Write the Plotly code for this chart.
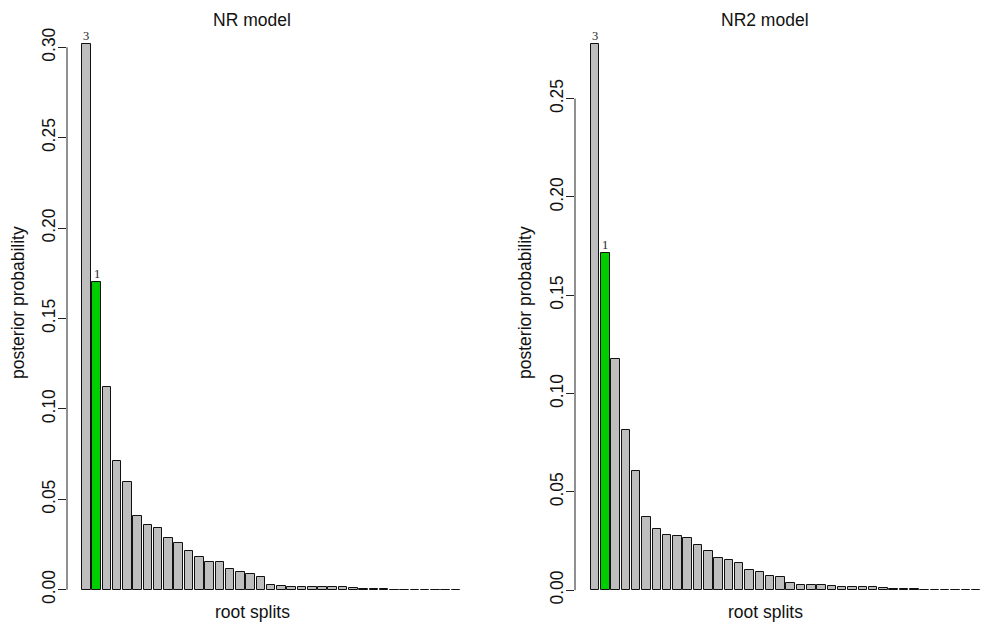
import plotly.graph_objects as go

# Posterior probabilities of root splits, sorted in decreasing order
nr_probs = [0.302, 0.170, 0.112, 0.071, 0.0597, 0.041, 0.0356, 0.0341, 0.0286, 0.0258,
            0.0212, 0.0181, 0.0152, 0.0151, 0.0115, 0.0099, 0.0089, 0.0068, 0.0025, 0.0021,
            0.0016, 0.0016, 0.0015, 0.0014, 0.0014, 0.0013, 0.0010, 0.0005, 0.0005, 0.0005,
            0.0001, 0.0001, 0.0001, 0.0001, 0.0001, 0.0001, 0.0001]
nr2_probs = [0.2776, 0.1716, 0.1178, 0.0814, 0.0607, 0.0370, 0.0312, 0.0280, 0.0276, 0.0266,
             0.0232, 0.0198, 0.0163, 0.0154, 0.0140, 0.0104, 0.0091, 0.0070, 0.0065, 0.0039,
             0.0029, 0.0027, 0.0025, 0.0019, 0.0017, 0.0017, 0.0014, 0.0014, 0.0013, 0.0008,
             0.0006, 0.0006, 0.0001, 0.0001, 0.0001, 0.0001, 0.0001, 0.0001]

# Labelled root splits: (bar index, label)
nr_labels = [(0, "3"), (1, "1")]
nr2_labels = [(0, "3"), (1, "1")]
highlight_index = 1  # the true root split

nr_ticks = [0.00, 0.05, 0.10, 0.15, 0.20, 0.25, 0.30]
nr2_ticks = [0.00, 0.05, 0.10, 0.15, 0.20, 0.25]

titles = ["NR model", "NR2 model"]
xlab = "root splits"
ylab = "posterior probability"

W, H = 984, 628
GRAY = "#BEBEBE"
GREEN = "#00CD00"
FONT = "Liberation Sans, Arial, Helvetica, sans-serif"
FS = 17.5


def px(x):
    return x / W


def py(y):
    return 1 - y / H


fig = go.Figure()

panels = [
    dict(probs=nr_probs, ticks=nr_ticks, labels=nr_labels, title=titles[0],
         xdom=(67, 475), ydom=(22, 611), xr=[-0.879, 38.85], yr=[-0.01178, 0.314],
         cx=252, ylab_x=18, xax="x", yax="y"),
    dict(probs=nr2_probs, ticks=nr2_ticks, labels=nr2_labels, title=titles[1],
         xdom=(575, 983), ydom=(22, 611), xr=[-0.942, 38.67], yr=[-0.01058, 0.289],
         cx=765, ylab_x=525, xax="x2", yax="y2"),
]

annotations = []
shapes = []
for i, p in enumerate(panels):
    n = len(p["probs"])
    xs = list(range(1, n + 1))
    colors = [GREEN if k == highlight_index else GRAY for k in range(n)]
    fig.add_trace(go.Bar(
        x=xs, y=p["probs"], width=1 / 1.2,
        marker=dict(color=colors, line=dict(color="#111111", width=1)),
        xaxis=p["xax"], yaxis=p["yax"], showlegend=False, hoverinfo="x+y",
    ))
    suffix = "" if i == 0 else "2"
    fig.layout["xaxis" + suffix] = dict(
        domain=[px(p["xdom"][0]), px(p["xdom"][1])], range=p["xr"],
        showgrid=False, zeroline=False, showline=False, showticklabels=False,
        ticks="", anchor=p["yax"], fixedrange=True,
    )
    fig.layout["yaxis" + suffix] = dict(
        domain=[py(p["ydom"][1]), py(p["ydom"][0])], range=p["yr"],
        showgrid=False, zeroline=False, showline=False,
        tickmode="array", tickvals=p["ticks"], ticktext=[f"{t:.2f}" for t in p["ticks"]],
        ticks="outside", ticklen=8, tickwidth=1, tickcolor="#222222",
        ticklabelstandoff=-4,
        tickangle=-90, tickfont=dict(family=FONT, size=FS, color="#111111"),
        anchor=p["xax"], fixedrange=True,
    )
    # axis line spanning only the tick range
    shapes.append(dict(type="line", xref=p["xax"] + " domain", yref=p["yax"],
                       x0=0, x1=0, y0=p["ticks"][0], y1=p["ticks"][-1],
                       line=dict(color="#222222", width=1)))
    # split labels above bars
    for idx, lab in p["labels"]:
        annotations.append(dict(x=idx + 1, y=p["probs"][idx], xref=p["xax"], yref=p["yax"],
                                text=lab, showarrow=False, yanchor="bottom", yshift=-1,
                                font=dict(family="Liberation Serif, Times New Roman, serif",
                                          size=12.5, color="#222222")))
    # title
    annotations.append(dict(x=px(p["cx"]), y=py(20), xref="paper", yref="paper",
                            text=p["title"], showarrow=False, xanchor="center", yanchor="middle",
                            font=dict(family=FONT, size=FS, color="#111111")))
    # x label
    annotations.append(dict(x=px(p["cx"]), y=py(612), xref="paper", yref="paper",
                            text=xlab, showarrow=False, xanchor="center", yanchor="middle",
                            font=dict(family=FONT, size=FS, color="#111111")))
    # y label
    annotations.append(dict(x=px(p["ylab_x"]), y=py(303), xref="paper", yref="paper",
                            text=ylab, showarrow=False, xanchor="center", yanchor="middle",
                            textangle=-90,
                            font=dict(family=FONT, size=FS, color="#111111")))

fig.update_layout(
    width=W, height=H, autosize=False,
    margin=dict(l=0, r=0, t=0, b=0, pad=0),
    paper_bgcolor="white", plot_bgcolor="white",
    annotations=annotations, shapes=shapes,
    bargap=0,
)

fig.write_html("out.html")
